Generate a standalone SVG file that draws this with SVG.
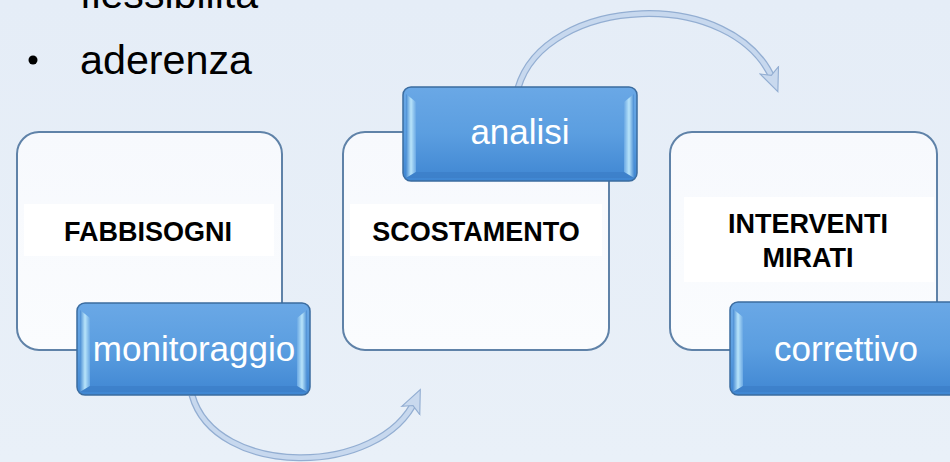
<svg xmlns="http://www.w3.org/2000/svg" width="950" height="462" viewBox="0 0 950 462">
<defs>
<linearGradient id="bg" x1="0" y1="0" x2="0" y2="1"><stop offset="0" stop-color="#e5edf7"/><stop offset="1" stop-color="#e9f0f8"/></linearGradient>
<linearGradient id="card" x1="0" y1="0" x2="0" y2="1"><stop offset="0" stop-color="#f7f9fd"/><stop offset="1" stop-color="#fafcfe"/></linearGradient>
<linearGradient id="blue" x1="0" y1="0" x2="0" y2="1"><stop offset="0" stop-color="#6aa8e6"/><stop offset="0.5" stop-color="#5b9ee0"/><stop offset="1" stop-color="#3f86d2"/></linearGradient>
<linearGradient id="bevL" x1="0" y1="0" x2="1" y2="0"><stop offset="0" stop-color="#4a8dd4"/><stop offset="0.5" stop-color="#b8e4fa"/><stop offset="1" stop-color="#6aa8e4"/></linearGradient>
<linearGradient id="bevR" x1="0" y1="0" x2="1" y2="0"><stop offset="0" stop-color="#6aa8e4"/><stop offset="0.5" stop-color="#b8e4fa"/><stop offset="1" stop-color="#4a8dd4"/></linearGradient>
<marker id="ah" markerWidth="6" markerHeight="6" refX="3" refY="3" orient="auto" markerUnits="strokeWidth">
<path d="M0.2,0.8 L5.3,3 L0.2,5.2 L1.4,3 Z" fill="#c9d9ee" stroke="#93aed2" stroke-width="0.25"/>
</marker>
<style>
.card{fill:url(#card);stroke:#5f82a8;stroke-width:2}
.band{fill:#ffffff}
.lbl{font-family:"Liberation Sans",Arial,sans-serif;font-weight:bold;font-size:27px;fill:#000;text-anchor:middle}
.tab{fill:url(#blue);stroke:#3b6c9f;stroke-width:1.5}
.tabtxt{font-family:"Liberation Sans",Arial,sans-serif;font-size:35px;fill:#ffffff;text-anchor:middle}
.bullet{font-family:"Liberation Sans",Arial,sans-serif;font-size:40px;fill:#000}
.arcO{fill:none;stroke:#93aed2;stroke-width:7}
.arcI{fill:none;stroke:#c7d8ee;stroke-width:4.5}
</style>
</defs>
<rect width="950" height="462" fill="url(#bg)"/>

<g id="text-list">
<text class="bullet" x="80" y="8" textLength="178" lengthAdjust="spacingAndGlyphs">flessibilità</text>
<circle cx="33" cy="60" r="4.5" fill="#000"/>
<text class="bullet" x="80" y="74" textLength="172" lengthAdjust="spacingAndGlyphs">aderenza</text>
</g>

<g id="connectors">
<path class="arcO" d="M192,395 C215,478 380,478 416,399"/>
<path class="arcI" d="M192,395 C215,478 380,478 416,399" marker-end="url(#ah)"/>
<path class="arcO" d="M518,88 C545,-5 735,-15 774,82"/>
<path class="arcI" d="M518,88 C545,-5 735,-15 774,82" marker-end="url(#ah)"/>
</g>

<g id="node-fabbisogni">
<rect class="card" x="17" y="132" width="265" height="218" rx="22"/>
<rect class="band" x="24" y="204" width="250" height="52"/>
<text class="lbl" x="148" y="241">FABBISOGNI</text>
</g>

<g id="node-monitoraggio">
<rect class="tab" x="77" y="303" width="233" height="92" rx="8"/>
<path d="M80,310 L90,318 L90,386 L80,392 Z" fill="url(#bevL)"/>
<path d="M307,310 L297,318 L297,386 L307,392 Z" fill="url(#bevR)"/>
<path d="M80,392 L90,386 L297,386 L307,392 Z" fill="#3a7cc4" opacity="0.6"/>
<text class="tabtxt" x="194" y="361">monitoraggio</text>
</g>

<g id="node-scostamento">
<rect class="card" x="343" y="132" width="266" height="218" rx="22"/>
<rect class="band" x="350" y="204" width="252" height="52"/>
<text class="lbl" x="476" y="241">SCOSTAMENTO</text>
</g>

<g id="node-analisi">
<rect class="tab" x="403" y="87" width="234" height="94" rx="8"/>
<path d="M406,94 L416,102 L416,172 L406,178 Z" fill="url(#bevL)"/>
<path d="M634,94 L624,102 L624,172 L634,178 Z" fill="url(#bevR)"/>
<path d="M406,178 L416,172 L624,172 L634,178 Z" fill="#3a7cc4" opacity="0.6"/>
<text class="tabtxt" x="520" y="144">analisi</text>
</g>

<g id="node-interventi">
<rect class="card" x="670" y="132" width="267" height="218" rx="22"/>
<rect class="band" x="684" y="197" width="250" height="85"/>
<text class="lbl" x="808" y="233">INTERVENTI</text>
<text class="lbl" x="808" y="267">MIRATI</text>
</g>

<g id="node-correttivo">
<rect class="tab" x="730" y="302" width="232" height="93" rx="8"/>
<path d="M733,309 L743,317 L743,386 L733,392 Z" fill="url(#bevL)"/>
<path d="M733,392 L743,386 L950,386 L950,392 Z" fill="#3a7cc4" opacity="0.6"/>
<text class="tabtxt" x="846" y="361">correttivo</text>
</g>
</svg>
